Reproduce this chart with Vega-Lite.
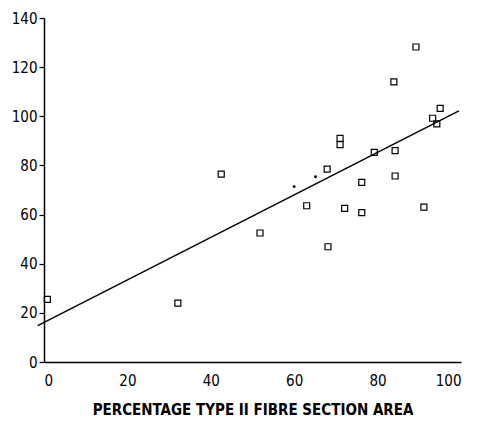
{
  "$schema": "https://vega.github.io/schema/vega-lite/v6.json",
  "width": 417,
  "height": 344,
  "autosize": {"type": "none"},
  "padding": {"left": 44, "top": 18, "right": 17, "bottom": 61},
  "background": "white",
  "config": {
    "view": {"stroke": null},
    "axis": {"grid": false, "domainColor": "black", "tickColor": "black", "labelColor": "black", "titleColor": "black", "labelFont": "DejaVu Sans Condensed", "titleFont": "DejaVu Sans Condensed", "labelFontSize": 15, "domainWidth": 1.5}
  },
  "datasets": {
    "squares": [
      {"pct": 0.8, "val": 25.5}, {"pct": 32.1, "val": 24}, {"pct": 42.5, "val": 76.5},
      {"pct": 51.8, "val": 52.5}, {"pct": 63, "val": 63.6}, {"pct": 67.9, "val": 78.5},
      {"pct": 68.1, "val": 46.9}, {"pct": 71, "val": 91}, {"pct": 71, "val": 88.5},
      {"pct": 72.1, "val": 62.5}, {"pct": 76.2, "val": 73.1}, {"pct": 76.2, "val": 60.8},
      {"pct": 79.2, "val": 85.3}, {"pct": 84.2, "val": 86}, {"pct": 84.2, "val": 75.7},
      {"pct": 83.9, "val": 114}, {"pct": 89.2, "val": 128.2}, {"pct": 91.1, "val": 63},
      {"pct": 93.2, "val": 99.2}, {"pct": 94.2, "val": 96.9}, {"pct": 95, "val": 103.2}
    ],
    "dots": [{"pct": 60, "val": 71.4}, {"pct": 65.1, "val": 75.4}],
    "fit": [{"pct": -1.5, "val": 14.8}, {"pct": 99.5, "val": 102.2}]
  },
  "layer": [
    {
      "data": {"name": "fit"},
      "mark": {"type": "line", "color": "black", "strokeWidth": 1.5, "clip": false},
      "encoding": {
        "x": {"field": "pct", "type": "quantitative", "scale": {"domain": [0, 100]},
              "axis": {"values": [0, 20, 40, 60, 80, 100], "ticks": false, "labelPadding": 11, "title": "PERCENTAGE TYPE II FIBRE SECTION AREA", "titleFontSize": 15, "titleFontWeight": "bold", "titlePadding": 14}},
        "y": {"field": "val", "type": "quantitative", "scale": {"domain": [0, 140]},
              "axis": {"values": [0, 20, 40, 60, 80, 100, 120, 140], "tickSize": 5, "tickWidth": 1.2, "labelPadding": 2, "title": null}}
      }
    },
    {
      "data": {"name": "squares"},
      "mark": {"type": "point", "shape": "square", "filled": false, "stroke": "black", "strokeWidth": 1.2, "size": 36, "opacity": 1},
      "encoding": {
        "x": {"field": "pct", "type": "quantitative"},
        "y": {"field": "val", "type": "quantitative"}
      }
    },
    {
      "data": {"name": "dots"},
      "mark": {"type": "point", "shape": "circle", "filled": true, "color": "black", "size": 8, "opacity": 1},
      "encoding": {
        "x": {"field": "pct", "type": "quantitative"},
        "y": {"field": "val", "type": "quantitative"}
      }
    }
  ]
}
